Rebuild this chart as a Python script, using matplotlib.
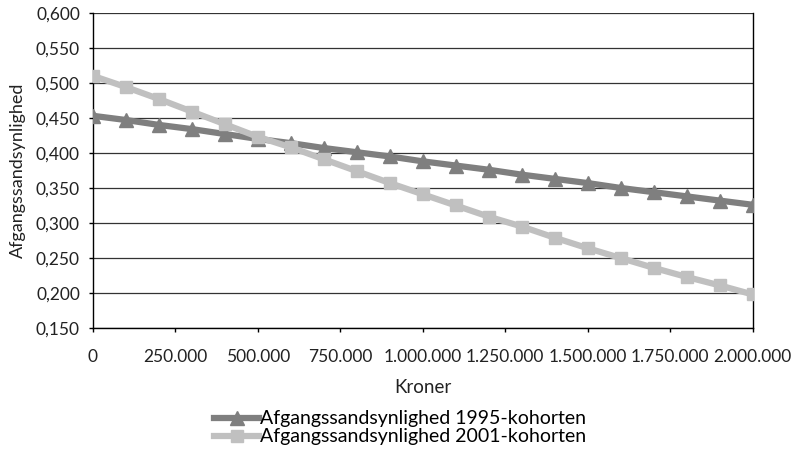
import numpy as np
import matplotlib.pyplot as plt
from matplotlib.ticker import FuncFormatter, MultipleLocator

plt.rcParams['font.family'] = ['Lato', 'DejaVu Sans']

# Kroner (0 to 2 mio. in steps of 100.000)
kroner = [0, 100000, 200000, 300000, 400000, 500000, 600000, 700000, 800000, 900000,
          1000000, 1100000, 1200000, 1300000, 1400000, 1500000, 1600000, 1700000,
          1800000, 1900000, 2000000]

kohorte_1995 = [0.453, 0.447, 0.440, 0.434, 0.427, 0.420, 0.414, 0.407, 0.401, 0.395,
                0.388, 0.382, 0.376, 0.369, 0.363, 0.357, 0.350, 0.344, 0.338, 0.332,
                0.326]
kohorte_2001 = [0.510, 0.494, 0.477, 0.459, 0.441, 0.423, 0.408, 0.391, 0.374, 0.357,
                0.341, 0.325, 0.309, 0.295, 0.279, 0.264, 0.250, 0.236, 0.223, 0.211,
                0.198]

labels = ["Afgangssandsynlighed 1995-kohorten", "Afgangssandsynlighed 2001-kohorten"]

fig = plt.figure(figsize=(7.94, 4.57), dpi=100)
ax = fig.add_axes([0.117, 0.282, 0.831, 0.690])

ax.plot(kroner, kohorte_1995, color="#7f7f7f", lw=4.5, marker="^", ms=10,
        label=labels[0], zorder=3)
ax.plot(kroner, kohorte_2001, color="#c0c0c0", lw=4.5, marker="s", ms=9,
        label=labels[1], zorder=4)

ax.set_xlim(0, 2000000)
ax.set_ylim(0.15, 0.60)
ax.xaxis.set_major_locator(MultipleLocator(250000))
ax.yaxis.set_major_locator(MultipleLocator(0.05))
ax.xaxis.set_major_formatter(FuncFormatter(lambda v, p: f"{int(v):,}".replace(",", ".")))
ax.yaxis.set_major_formatter(FuncFormatter(lambda v, p: f"{v:.3f}".replace(".", ",")))

ax.grid(axis="y", color="#333333", lw=0.9)
ax.set_axisbelow(True)
for side in ["left", "bottom", "right"]:
    ax.spines[side].set_color("black")
    ax.spines[side].set_linewidth(1.0)
ax.spines["top"].set_visible(False)
ax.tick_params(axis="both", labelsize=12.5, color="black", length=3, width=1,
               labelcolor="#222222")
ax.tick_params(axis="x", pad=11.8)
ax.tick_params(axis="y", pad=6.3)

ax.set_xlabel("Kroner", fontsize=13.5, color="#222222", va="center")
ax.xaxis.set_label_coords(0.5, -0.187)
ax.set_ylabel("Afgangssandsynlighed", fontsize=13, color="#222222", va="center")
ax.yaxis.set_label_coords(-0.113, 0.5)

fig.legend(loc="center", bbox_to_anchor=(0.504, 0.0635), frameon=False,
           fontsize=14, handlelength=2.35, handletextpad=0.05, labelspacing=0.05,
           borderpad=0, borderaxespad=0)

fig.savefig("out.png", dpi=100)
